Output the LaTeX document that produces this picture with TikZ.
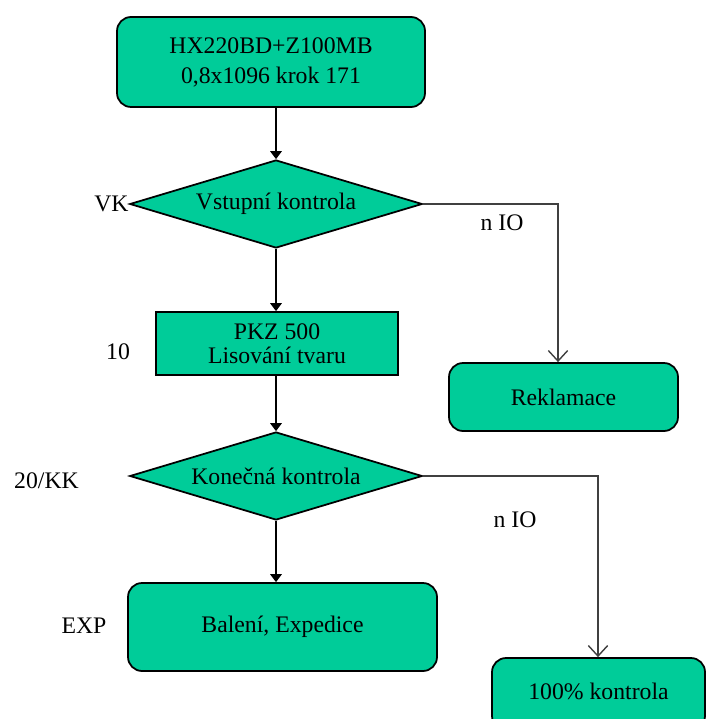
\documentclass[tikz,border=0pt]{standalone}
\usepackage{fontspec}
\setmainfont{Liberation Serif}
\usetikzlibrary{arrows.meta,positioning,shapes.geometric}

\definecolor{procgreen}{RGB}{0,204,153}

\begin{document}
\begin{tikzpicture}[
  font=\fontsize{13.5}{17}\selectfont,
  proc/.style ={draw,line width=1pt,rectangle,fill=procgreen,align=center,
                rounded corners=8pt},
  oper/.style ={draw,line width=1pt,rectangle,fill=procgreen,align=center},
  check/.style={draw,line width=1pt,diamond,fill=procgreen,align=center,
                aspect=3.3,inner sep=1pt,minimum width=5.85cm,minimum height=1.76cm},
  flow/.style ={line width=1pt,-{Triangle[length=4.5pt,width=6.5pt]}},
  reject/.style={line width=0.8pt,draw=black!75,
                 -{Straight Barb[length=6pt,width=11pt,line width=0.8pt]}},
  tag/.style  ={inner sep=0pt},
]

\useasboundingbox (0,0) rectangle (14.2,-14.38);

%% =====================================================
%%  Main process line
%% =====================================================
\node[proc,minimum width=6.16cm,minimum height=1.8cm] (start) at (5.42,-1.24)
      {HX220BD+Z100MB\\0,8x1096 krok 171};
\node[check] (vstup) at (5.52,-4.08) {Vstupní kontrola};
\node[oper,minimum width=4.84cm,minimum height=1.26cm] (pkz) at (5.54,-6.87)
      {\raisebox{-3pt}{\shortstack{PKZ 500\\[1pt]Lisování tvaru}}};
\node[check] (konec) at (5.52,-9.52) {Konečná kontrola};
\node[proc,minimum width=6.18cm,minimum height=1.76cm] (baleni) at (5.65,-12.54)
      {Balení, Expedice};

\draw[flow] (vstup.north |- start.south) -- (vstup.north);
\draw[flow] (vstup.south) -- (vstup.south |- pkz.north);
\draw[flow] (vstup.south |- pkz.south) -- (konec.north);
\draw[flow] (konec.south) -- (konec.south |- baleni.north);

%% operation numbers
\node[tag,left=0pt of vstup.west] (vk) {VK};
\node[tag] (op10) at (2.36,-7.04) {10};
\node[tag] (op20) at (0.93,-9.62) {20/KK};
\node[tag] (exp)  at (1.68,-12.52) {EXP};

%% =====================================================
%%  Non-conforming branches
%% =====================================================
\node[proc,minimum width=4.58cm,minimum height=1.36cm] (rekl) at (11.27,-7.94)
      {Reklamace};
\node[proc,minimum width=4.26cm,minimum height=1.44cm] (kontrola) at (11.97,-13.88)
      {\raisebox{3pt}{100\% kontrola}};

\coordinate (c1) at (11.16,-4.08);
\coordinate (c2) at (11.96,-9.52);
\draw[reject] (vstup.east) -- (c1) -- (c1 |- rekl.north);
\draw[reject] (konec.east) -- (c2) -- (c2 |- kontrola.north);

\node[tag] (nio1) at (10.04,-4.46) {n IO};
\node[tag] (nio2) at (10.3,-10.4) {n IO};

\end{tikzpicture}
\end{document}
